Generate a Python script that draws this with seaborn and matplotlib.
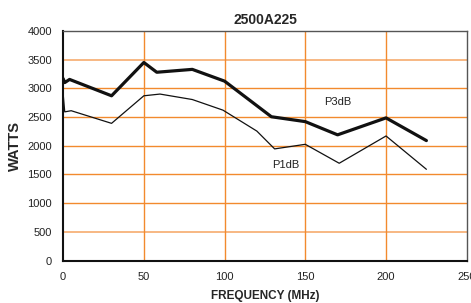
import pandas as pd
import matplotlib
matplotlib.use("Agg")
import matplotlib.pyplot as plt
import seaborn as sns

# data
p3_freq = [0, 1, 4, 30, 50, 58, 80, 100, 129, 150, 170, 200, 225]
p3_watts = [3170, 3100, 3155, 2870, 3450, 3280, 3330, 3125, 2505, 2420, 2190, 2485, 2090]
p1_freq = [0, 1, 5, 30, 50, 60, 80, 99, 120, 131, 150, 171, 200, 225]
p1_watts = [2910, 2590, 2610, 2390, 2870, 2900, 2805, 2620, 2255, 1945, 2025, 1695, 2170, 1590]

sns.set_style("white")
plt.rcParams['font.family'] = ['Liberation Sans', 'DejaVu Sans']

fig = plt.figure(figsize=(4.71, 3.03), dpi=100)
ax = fig.add_axes([0.134, 0.14, 0.857, 0.758])

grid_col = '#F28A2E'
for y in [500, 1000, 1500, 2000, 2500, 3000, 3500]:
    light = y in (500, 3500)
    ax.axhline(y, color='#F7B27A' if light else grid_col, lw=1.3 if light else 1.0, zorder=1)
for x in [50, 100, 150, 200]:
    ax.axvline(x, color=grid_col, lw=1.0, zorder=1)

df3 = pd.DataFrame({'freq': p3_freq, 'watts': p3_watts})
df1 = pd.DataFrame({'freq': p1_freq, 'watts': p1_watts})
sns.lineplot(data=df3, x='freq', y='watts', sort=False, color='#111111', lw=2.3, ax=ax, zorder=3)
sns.lineplot(data=df1, x='freq', y='watts', sort=False, color='#111111', lw=0.9, ax=ax, zorder=3)

ax.set_xlim(0, 250)
ax.set_ylim(0, 4000)
ax.set_xticks([0, 50, 100, 150, 200, 250])
ax.set_yticks(range(0, 4001, 500))
ax.tick_params(labelsize=8, colors='#222222', length=0, pad=8)
ax.tick_params(axis='y', pad=8)

for s in ['left', 'bottom']:
    ax.spines[s].set_color('#111111')
    ax.spines[s].set_linewidth(1.5)
for s in ['top', 'right']:
    ax.spines[s].set_color('#555555')
    ax.spines[s].set_linewidth(1.0)

ax.text(170, 2760, 'P3dB', fontsize=8, ha='center', va='center', color='#222222')
ax.text(138, 1670, 'P1dB', fontsize=8, ha='center', va='center', color='#222222')

ax.set_title('2500A225', fontsize=10, fontweight='bold', pad=5)
ax.set_xlabel('FREQUENCY (MHz)', fontsize=8.5, fontweight='bold', labelpad=6)
ax.set_ylabel('WATTS', fontsize=10.5, fontweight='bold', labelpad=4)

fig.savefig('out.png', dpi=100)
